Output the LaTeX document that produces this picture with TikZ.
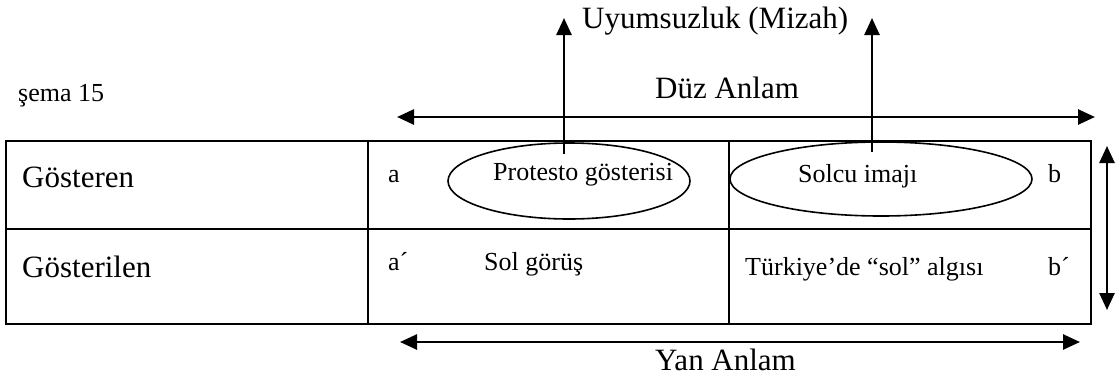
\documentclass[tikz,border=0pt]{standalone}
\usepackage{fontspec}
\setmainfont{Liberation Serif}
\usetikzlibrary{arrows.meta,shapes.geometric}
\begin{document}
\begin{tikzpicture}[x=1pt,y=-1pt,
  big/.style={anchor=base west,inner sep=0pt,font=\fontsize{31}{34}\selectfont},
  small/.style={anchor=base west,inner sep=0pt,font=\fontsize{26}{29}\selectfont},
  cell/.style={draw,line width=2.6pt,rectangle,inner sep=0pt},
  oval/.style={draw,line width=1.6pt,ellipse,inner sep=0pt},
  arr/.style={line width=2.6pt,-{Triangle[length=17pt,width=15pt]}},
  darr/.style={line width=2.6pt,{Triangle[length=17pt,width=15pt]}-{Triangle[length=17pt,width=15pt]}}]
\useasboundingbox (0,0) rectangle (1117,378);
% table cells
\node[cell,minimum width=362pt,minimum height=88pt] (c11) at (187,185) {};
\node[cell,minimum width=361pt,minimum height=88pt] (c12) at (548.5,185) {};
\node[cell,minimum width=362pt,minimum height=88pt] (c13) at (910,185) {};
\node[cell,minimum width=362pt,minimum height=95pt] (c21) at (187,276.5) {};
\node[cell,minimum width=361pt,minimum height=95pt] (c22) at (548.5,276.5) {};
\node[cell,minimum width=362pt,minimum height=95pt] (c23) at (910,276.5) {};
% ellipses in the first row
\node[oval,minimum width=242pt,minimum height=76pt] (e1) at (569,181) {};
\node[oval,minimum width=302pt,minimum height=74pt] (e2) at (881,179) {};
% texts
\node[small] (sema) at (18,101) {şema 15};
\node[big] (uyum) at (582,28) {Uyumsuzluk (Mizah)};
\node[big] (duz) at (655,98) {Düz Anlam};
\node[big] (yan) at (655,370) {Yan Anlam};
\node[big] (gosteren) at (22,187) {Gösteren};
\node[big] (gosterilen) at (22,277) {Gösterilen};
\node[small] (la) at (388,182) {a};
\node[small] (prot) at (493,180) {Protesto gösterisi};
\node[small] (solcu) at (798,182) {Solcu imajı};
\node[small] (lb) at (1048,182) {b};
\node[small] (la2) at (388,270) {a\textasciiacute};
\node[small] (solg) at (484,270) {Sol görüş};
\node[small] (turk) at (745,275) {Türkiye’de “sol” algısı};
\node[small] (lb2) at (1048,275) {b\textasciiacute};
% arrows
\coordinate (u1s) at (564,154);
\coordinate (u1e) at (564,18);
\coordinate (u2s) at (872,152);
\coordinate (u2e) at (872,18);
\draw[arr] (u1s) -- (u1e);
\draw[arr] (u2s) -- (u2e);
\coordinate (dl) at (397,117);
\coordinate (dr) at (1095,117);
\draw[darr] (dl) -- (dr);
\coordinate (yl) at (400,342);
\coordinate (yr) at (1080,342);
\draw[darr] (yl) -- (yr);
\coordinate (vt) at (1107,146);
\coordinate (vb) at (1107,310);
\draw[darr] (vt) -- (vb);
\end{tikzpicture}
\end{document}
